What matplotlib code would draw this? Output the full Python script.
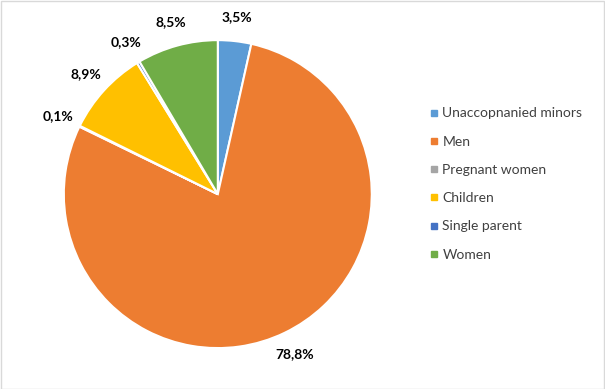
import matplotlib.pyplot as plt
import numpy as np
from matplotlib.lines import Line2D
from matplotlib.patches import Rectangle

plt.rcParams['font.family'] = ['Lato', 'DejaVu Sans']

# datos
categorias = ['Unaccopnanied minors', 'Men', 'Pregnant women',
              'Children', 'Single parent', 'Women']
valores = [3.5, 78.8, 0.1, 8.9, 0.3, 8.5]
etiquetas = ['3,5%', '78,8%', '0,1%', '8,9%', '0,3%', '8,5%']
colores = ['#5B9BD5', '#ED7D31', '#A5A5A5', '#FFC000', '#4472C4', '#70AD47']

fig = plt.figure(figsize=(6.05, 3.89), dpi=100)
ax = fig.add_axes([0.360 - 0.2545, 0.501 - 0.396, 0.509, 0.792])

wedges, _ = ax.pie(valores, colors=colores, startangle=90, counterclock=False,
                   wedgeprops=dict(edgecolor='white', linewidth=1.5))
ax.set_aspect('equal')
ax.set_xlim(-1, 1)
ax.set_ylim(-1, 1)

# etiquetas fuera del pastel
for w, txt in zip(wedges, etiquetas):
    ang = np.deg2rad((w.theta1 + w.theta2) / 2)
    t = ax.text(1.155 * np.cos(ang), 1.155 * np.sin(ang), txt,
                ha='center', va='center', fontsize=10, fontweight='bold',
                color='#000000')
    t.set_clip_on(False)

# leyenda
handles = [Line2D([0], [0], marker='s', linestyle='', markersize=5,
                  markerfacecolor=c, markeredgecolor=c) for c in colores]
fig.legend(handles, categorias, loc='center left',
           bbox_to_anchor=(0.690, 0.527), frameon=False, fontsize=10,
           labelspacing=1.17, handlelength=0.6, handletextpad=0.3,
           labelcolor='#404040')

# borde del gráfico
fig.patches.append(Rectangle((0.001, 0.001), 0.997, 0.997, transform=fig.transFigure,
                             fill=False, edgecolor='#D9D9D9', linewidth=1))

fig.savefig('out.png', dpi=100)
